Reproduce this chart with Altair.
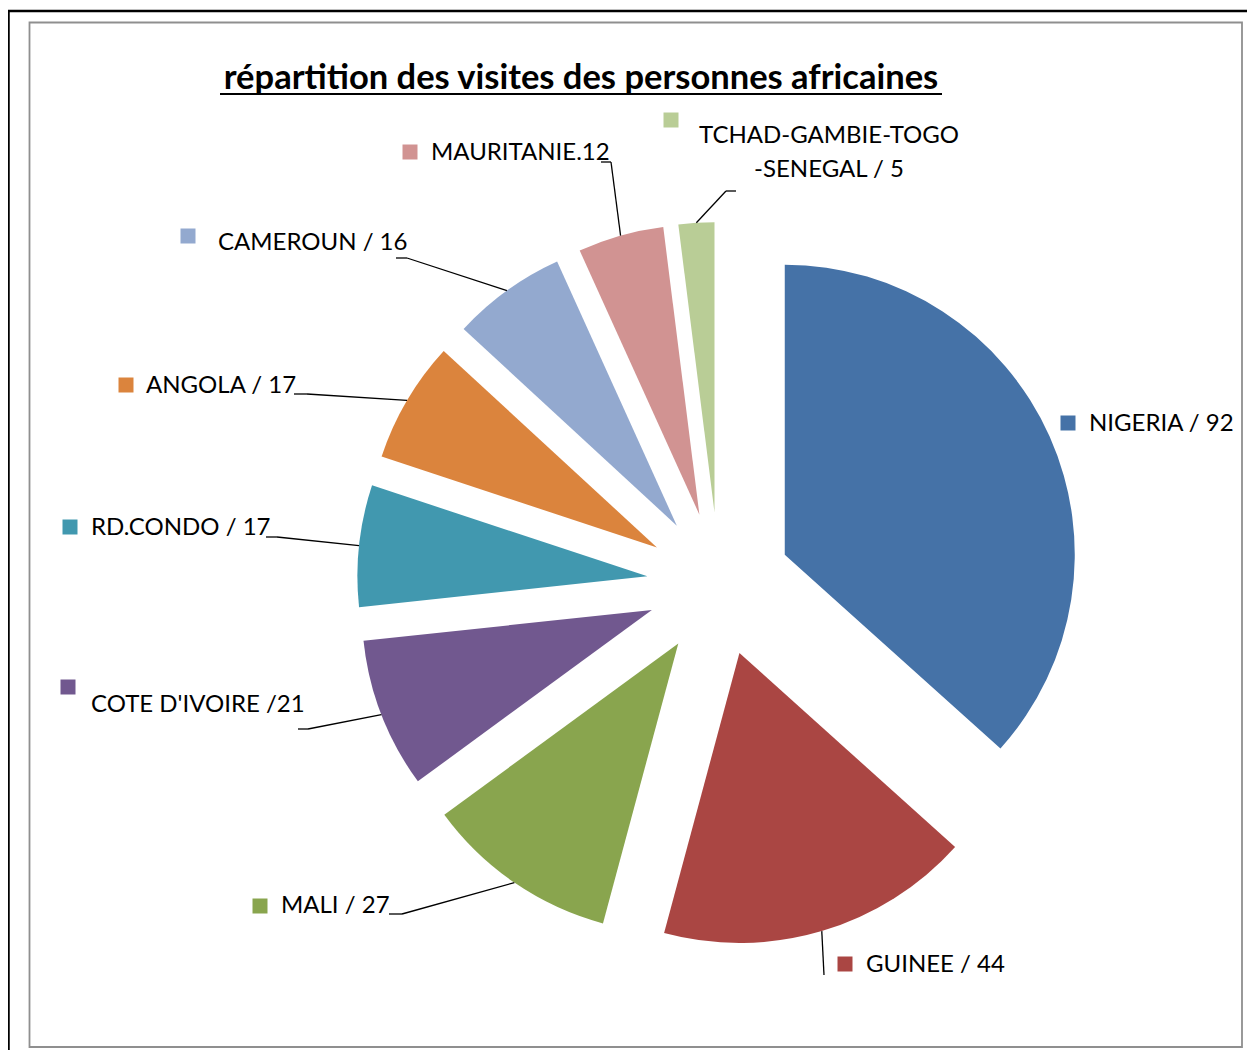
import altair as alt
import pandas as pd

# ---------------- data ----------------
names = ["NIGERIA", "GUINEE", "MALI", "COTE D'IVOIRE", "RD.CONDO", "ANGOLA",
         "CAMEROUN", "MAURITANIE", "TCHAD-GAMBIE-TOGO-SENEGAL"]
values = [92, 44, 27, 21, 17, 17, 16, 12, 5]
labels = ["NIGERIA / 92", "GUINEE / 44", "MALI / 27", "COTE D'IVOIRE /21",
          "RD.CONDO / 17", "ANGOLA / 17", "CAMEROUN / 16", "MAURITANIE.12",
          "TCHAD-GAMBIE-TOGO\n-SENEGAL / 5"]
colors = ["#4572A7", "#AA4643", "#89A54E", "#71588F", "#4198AF", "#DB843D",
          "#93A9CF", "#D19392", "#B9CD96"]
title = "répartition des visites des personnes africaines"

# ---------------- layout (page pixels) ----------------
M = 8                      # page margin -> chart origin
CX, CY = 719, 584          # pie centre
RADIUS = 290
EXPLODE = 72
FONT = "Lato"
W, H = 1239, 1042
marker_xy = [(1068, 423), (845, 964), (260, 906), (68, 687), (70, 527),
             (126, 385), (188, 236), (410, 152), (671, 120)]
text_xy = [(1089, 424), (866, 965), (281, 906), (91, 705), (91, 528),
           (146, 386), (218, 243), (431, 153), (829, 136)]
bend_xy = [None, (824, 975), (402, 914), (308, 729), (277, 537),
           (307, 394), (407, 258), (611, 162), (726, 191)]
hook_x = [None, 824, 389, 298, 266, 294, 396, 601, 736]

rows = []
for i, n in enumerate(names):
    b = bend_xy[i]
    rows.append(dict(
        order=i, name=n, value=values[i], label=labels[i],
        mx=marker_xy[i][0] - M, my=marker_xy[i][1] - M,
        tx=text_xy[i][0] - M, ty=text_xy[i][1] - M,
        bx=(b[0] - M) if b else None, by=(b[1] - M) if b else None,
        hx=(hook_x[i] - M) if b else None,
    ))
df = pd.DataFrame(rows)

cx, cy = CX - M, CY - M
base = (
    alt.Chart(df)
    .transform_window(cum="sum(value)", sort=[alt.SortField("order")], frame=[None, 0])
    .transform_joinaggregate(total="sum(value)")
    .transform_calculate(a0="2*PI*(datum.cum-datum.value)/datum.total")
    .transform_calculate(a1="2*PI*datum.cum/datum.total")
    .transform_calculate(mid="(datum.a0+datum.a1)/2")
    .transform_calculate(px=f"{cx}+{EXPLODE}*sin(datum.mid)")
    .transform_calculate(py=f"{cy}-{EXPLODE}*cos(datum.mid)")
    .transform_calculate(sx=f"{cx}+{EXPLODE + RADIUS}*sin(datum.mid)")
    .transform_calculate(sy=f"{cy}-{EXPLODE + RADIUS}*cos(datum.mid)")
)

color = alt.Color("name:N", scale=alt.Scale(domain=names, range=colors), legend=None)

arcs = base.mark_arc(radius=RADIUS).encode(
    x=alt.X("px:Q", scale=None, axis=None),
    y=alt.Y("py:Q", scale=None, axis=None),
    theta=alt.Theta("a0:Q", scale=None, stack=False),
    theta2=alt.Theta2("a1:Q"),
    color=color,
)

markers = base.mark_square(size=225, opacity=1).encode(
    x=alt.X("mx:Q", scale=None, axis=None),
    y=alt.Y("my:Q", scale=None, axis=None),
    color=color,
)

texts = base.transform_filter("datum.order < 8").mark_text(
    align="left", baseline="middle", font=FONT, fontSize=24, color="black"
).encode(
    x=alt.X("tx:Q", scale=None, axis=None),
    y=alt.Y("ty:Q", scale=None, axis=None),
    text="label:N",
)

text_multi = base.transform_filter("datum.order == 8").mark_text(
    align="center", baseline="middle", font=FONT, fontSize=24, color="black",
    lineBreak="\n", lineHeight=34
).encode(
    x=alt.X("tx:Q", scale=None, axis=None),
    y=alt.Y("ty:Q", scale=None, axis=None),
    text="label:N",
)

leaders = base.transform_filter("isValid(datum.bx)").mark_rule(
    color="black", strokeWidth=1.3
).encode(
    x=alt.X("sx:Q", scale=None, axis=None),
    y=alt.Y("sy:Q", scale=None, axis=None),
    x2="bx:Q",
    y2="by:Q",
)

hooks = base.transform_filter("isValid(datum.bx)").mark_rule(
    color="black", strokeWidth=1.3
).encode(
    x=alt.X("bx:Q", scale=None, axis=None),
    x2="hx:Q",
    y=alt.Y("by:Q", scale=None, axis=None),
)

one = alt.Chart(pd.DataFrame({"t": [title]}))
outer_top = one.mark_rule(color="black", strokeWidth=2.5).encode(
    x=alt.value(0), x2=alt.value(W), y=alt.value(11 - M)
)
outer_left = one.mark_rule(color="black", strokeWidth=2.5).encode(
    x=alt.value(8.5 - M), y=alt.value(11 - M), y2=alt.value(H)
)
inner_frame = one.mark_rect(fillOpacity=0, stroke="#8f8f8f", strokeWidth=1.8).encode(
    x=alt.value(29.5 - M), x2=alt.value(1242 - M), y=alt.value(22.5 - M), y2=alt.value(1047 - M)
)
title_text = one.mark_text(
    font=FONT, fontWeight="bold", fontSize=34.5, align="center", baseline="alphabetic", color="black"
).encode(x=alt.value(581 - M), y=alt.value(89 - M), text="t:N")
underline = one.mark_rule(color="black", strokeWidth=2).encode(
    x=alt.value(220 - M), x2=alt.value(942 - M), y=alt.value(94 - M)
)

chart = alt.layer(
    outer_top, outer_left, inner_frame, arcs, leaders, hooks, markers, texts, text_multi,
    title_text, underline
).properties(
    width=W, height=H, padding=0, autosize="none"
).configure_view(stroke=None)

chart.save("out.html", embed_options={"renderer": "svg", "actions": False})
